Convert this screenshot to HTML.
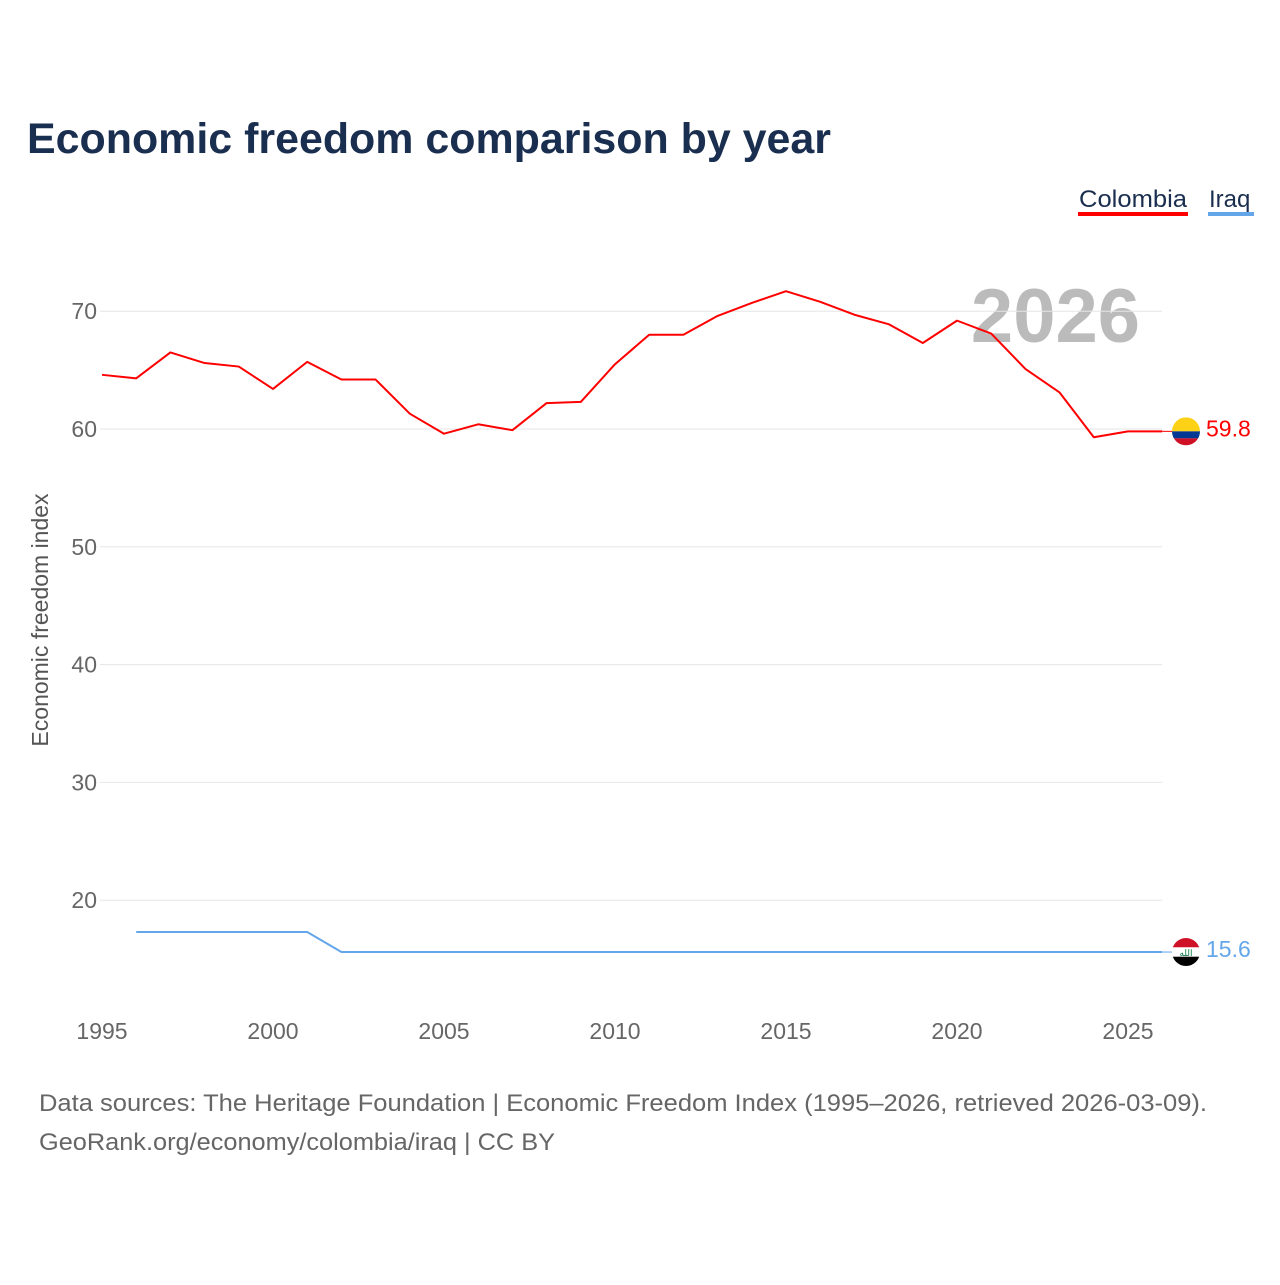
<!DOCTYPE html>
<html><head><meta charset="utf-8"><style>
body{margin:0;background:#fff;font-family:"Liberation Sans",sans-serif}
svg text{font-family:"Liberation Sans",sans-serif}
</style></head><body>
<svg id="c" width="1280" height="1280" viewBox="0 0 1280 1280">
<text x="27" y="153" font-size="43" font-weight="bold" fill="#1a2e4f" textLength="804" lengthAdjust="spacingAndGlyphs">Economic freedom comparison by year</text>
<g><text x="1079" y="207" font-size="24" fill="#1a2e4f" textLength="108" lengthAdjust="spacingAndGlyphs">Colombia</text><rect x="1078" y="212" width="110" height="4" fill="#ff0000"/></g>
<g><text x="1209" y="207" font-size="24" fill="#1a2e4f">Iraq</text><rect x="1208" y="212" width="46" height="4" fill="#63a6ea"/></g>
<text x="1140" y="342" font-size="76" font-weight="bold" fill="#bbbbbb" text-anchor="end">2026</text>
<g id="grid"></g><g id="axes"></g><g id="lines"></g>
<text transform="translate(48,620) rotate(-90)" font-size="23" fill="#555" text-anchor="middle">Economic freedom index</text>
<text x="39" y="1111" font-size="24" fill="#666" textLength="1168" lengthAdjust="spacingAndGlyphs">Data sources: The Heritage Foundation | Economic Freedom Index (1995–2026, retrieved 2026-03-09).</text>
<text x="39" y="1150" font-size="24" fill="#666" textLength="516" lengthAdjust="spacingAndGlyphs">GeoRank.org/economy/colombia/iraq | CC BY</text>
</svg>
<script>
const yTicks=[20,30,40,50,60,70];
const xTicks=[1995,2000,2005,2010,2015,2020,2025];
const colYears=[1995,1996,1997,1998,1999,2000,2001,2002,2003,2004,2005,2006,2007,2008,2009,2010,2011,2012,2013,2014,2015,2016,2017,2018,2019,2020,2021,2022,2023,2024,2025,2026];
const colombia=[64.6,64.3,66.5,65.6,65.3,63.4,65.7,64.2,64.2,61.3,59.6,60.4,59.9,62.2,62.3,65.5,68.0,68.0,69.6,70.7,71.7,70.8,69.7,68.9,67.3,69.2,68.1,65.1,63.1,59.3,59.8,59.8];
const iraqYears=[1996,1997,1998,1999,2000,2001,2002,2003,2004,2005,2006,2007,2008,2009,2010,2011,2012,2013,2014,2015,2016,2017,2018,2019,2020,2021,2022,2023,2024,2025,2026];
const iraq=[17.3,17.3,17.3,17.3,17.3,17.3,15.6,15.6,15.6,15.6,15.6,15.6,15.6,15.6,15.6,15.6,15.6,15.6,15.6,15.6,15.6,15.6,15.6,15.6,15.6,15.6,15.6,15.6,15.6,15.6,15.6];
const X=y=>102+(y-1995)*34.2, Y=v=>429-(v-60)*11.78;
const NS="http://www.w3.org/2000/svg";
function mk(t,a,p){const e=document.createElementNS(NS,t);for(const k in a)e.setAttribute(k,a[k]);p.appendChild(e);return e;}
const g=document.getElementById('grid'),ax=document.getElementById('axes'),ln=document.getElementById('lines');
yTicks.forEach(v=>{const l=mk('line',{x1:100,x2:1162,y1:Y(v),y2:Y(v),stroke:'#e6e6e6','stroke-width':1},g);


const t=mk('text',{x:97,y:Y(v)+8,'font-size':23,fill:'#666','text-anchor':'end'},ax);t.textContent=v;

});
xTicks.forEach(v=>{const t=mk('text',{x:X(v),y:1039,'font-size':23,fill:'#666','text-anchor':'middle'},ax);t.textContent=v;

});
function series(ys,vs,col,name){const p=mk('polyline',{points:ys.map((y,i)=>X(y)+','+Y(vs[i])).join(' '),fill:'none',stroke:col,'stroke-width':2,'stroke-linejoin':'round'},ln);


const last=vs[vs.length-1],ly=Y(last);
mk('line',{x1:X(ys[ys.length-1]),x2:1172,y1:ly,y2:ly,stroke:col,'stroke-width':1},ln);
const f=mk('g',{},ln);


const cid='clip'+name;const cp=mk('clipPath',{id:cid},f);mk('circle',{cx:1186,cy:ly,r:14},cp);
const cols=name=='colombia'?['#fcd116','#003893','#ce1126']:['#ce1126','#ffffff','#000000'];
const hs=name=='colombia'?[14,7,7]:[9.33,9.34,9.33];let yy=ly-14;
cols.forEach((c,i)=>{mk('rect',{x:1172,y:yy,width:28,height:hs[i],fill:c,'clip-path':'url(#'+cid+')'},f);yy+=hs[i];});
if(name=='iraq'){const a=mk('text',{x:1186,y:ly+4,'font-size':9,fill:'#007a3d','text-anchor':'middle'},f);a.textContent='الله';}
const t=mk('text',{x:1206,y:ly+5,'font-size':23,fill:col},ln);t.textContent=last.toFixed(1);

}
series(colYears,colombia,'#ff0000','colombia');
series(iraqYears,iraq,'#63a6ea','iraq');
</script>
</body></html>
